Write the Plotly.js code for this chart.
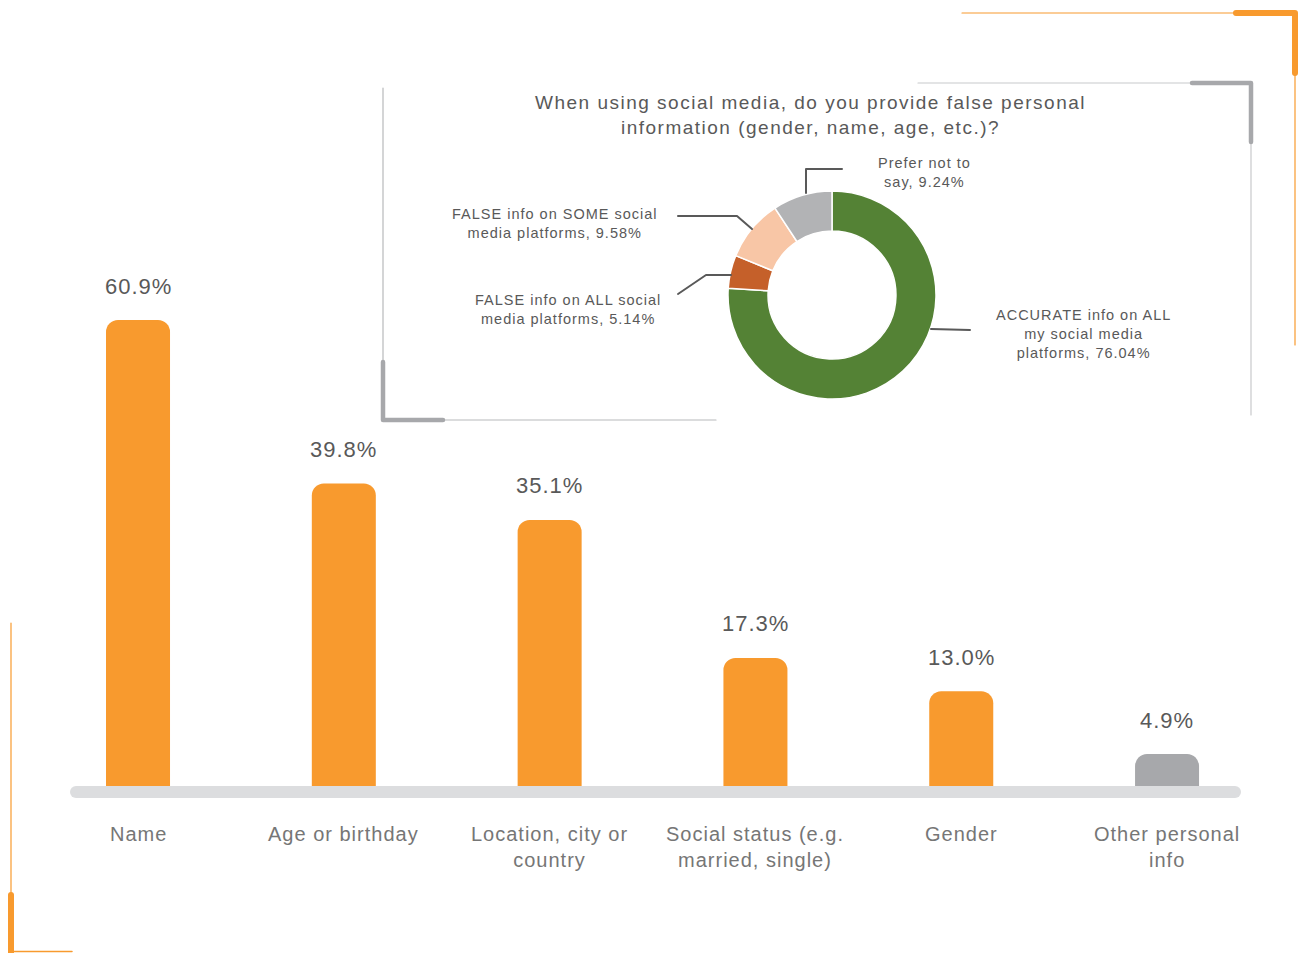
<!DOCTYPE html>
<html>
<head>
<meta charset="utf-8">
<script src="https://cdn.plot.ly/plotly-3.0.1.min.js"></script>
<style>
  html, body { margin: 0; padding: 0; background: #ffffff; }
  svg text { letter-spacing: 1px; }
  .shapelayer path { stroke-linecap: round; stroke-linejoin: round; }
</style>
</head>
<body>
<div id="chart" style="width:1307px;height:953px;"></div>
<script>
// ---- Bar chart data ----
const categories = ['Name', 'Age or birthday', 'Location, city or<br>country', 'Social status (e.g.<br>married, single)', 'Gender', 'Other personal<br>info'];
const percentages = [60.9, 39.8, 35.1, 17.3, 13.0, 4.9];
const barColors = ['#F89A2E', '#F89A2E', '#F89A2E', '#F89A2E', '#F89A2E', '#A7A8AB'];

// ---- Donut data ----
const donutTitle = 'When using social media, do you provide false personal<br>information (gender, name, age, etc.)?';
const donutLabels = ['ACCURATE info on ALL<br>my social media<br>platforms', 'FALSE info on ALL social<br>media platforms', 'FALSE info on SOME social<br>media platforms', 'Prefer not to<br>say'];
const donutValues = [76.04, 5.14, 9.58, 9.24];
const donutColors = ['#548235', '#C5602A', '#F8C6A6', '#B2B3B5'];

// pixel -> paper helpers (figure is 1307 x 953 with zero margins)
const W = 1307, H = 953;
const X = p => p / W;
const Y = p => 1 - p / H;

const catIdx = categories.map((_, i) => i);

const barTrace = {
  type: 'bar',
  x: catIdx,
  y: percentages,
  width: 0.311,
  marker: { color: barColors, cornerradius: 12, line: { width: 0 } },
  hoverinfo: 'skip',
  xaxis: 'x', yaxis: 'y'
};

const donutTrace = {
  type: 'pie',
  values: donutValues,
  labels: donutLabels.map(l => l.replace(/<br>/g, ' ')),
  hole: 0.615,
  sort: false,
  direction: 'clockwise',
  rotation: 0,
  textinfo: 'none',
  hoverinfo: 'skip',
  showlegend: false,
  marker: { colors: donutColors, line: { color: '#ffffff', width: 1.5 } },
  domain: { x: [X(728), X(936)], y: [Y(399), Y(191)] }
};

const annotations = [];
// value labels above bars
percentages.forEach((v, i) => {
  annotations.push({
    x: i, y: v, xref: 'x', yref: 'y',
    text: v.toFixed(1) + '%', showarrow: false,
    yanchor: 'middle', yshift: 34,
    font: { family: 'Liberation Sans, Arial, sans-serif', size: 22, color: '#595959' }
  });
});
// category labels under the baseline
categories.forEach((c, i) => {
  annotations.push({
    x: i, y: 0, xref: 'x', yref: 'y',
    text: c, showarrow: false,
    yanchor: 'top', yshift: -29,
    font: { family: 'Liberation Sans, Arial, sans-serif', size: 20, color: '#767676' }
  });
});
// donut title
annotations.push({
  x: X(810), y: Y(115), xref: 'paper', yref: 'paper',
  text: '<span style="letter-spacing:1.5px">' + donutTitle.replace('<br>', '</span><br><span style="letter-spacing:1.5px">') + '</span>',
  showarrow: false, xanchor: 'center', yanchor: 'middle',
  font: { family: 'Liberation Sans, Arial, sans-serif', size: 19, color: '#595959' }
});
// donut labels
const donutLabelPos = [[1083, 334], [568, 309], [555, 223], [925, 172]];
donutLabels.forEach((l, i) => {
  annotations.push({
    x: X(donutLabelPos[i][0]), y: Y(donutLabelPos[i][1]), xref: 'paper', yref: 'paper',
    text: l + ', ' + donutValues[i].toFixed(2) + '%', showarrow: false,
    xanchor: 'center', yanchor: 'middle',
    font: { family: 'Liberation Sans, Arial, sans-serif', size: 14.5, color: '#595959' }
  });
});

function pathPx(points) {
  return 'M' + points.map(p => X(p[0]) + ',' + Y(p[1])).join(' L');
}
function lineShape(points, color, width, layer) {
  return { type: 'path', xref: 'paper', yref: 'paper', path: pathPx(points),
           line: { color: color, width: width }, layer: layer || 'above' };
}

const ORANGE = '#F89A2E', GREY = '#A7A8AB', LEAD = '#595959';
const shapes = [
  // baseline
  lineShape([[76, 792], [1235, 792]], '#DCDDDF', 12),
  // top-right orange corner
  lineShape([[962, 13], [1236, 13]], ORANGE, 1.2),
  lineShape([[1295, 73], [1295, 345]], ORANGE, 1.2),
  lineShape([[1236, 13], [1295, 13], [1295, 73]], ORANGE, 6),
  // grey frame around donut (top-right)
  lineShape([[918, 83], [1192, 83]], '#C8C9CB', 1.2),
  lineShape([[1251, 142], [1251, 415]], '#C8C9CB', 1.2),
  lineShape([[1192, 83], [1251, 83], [1251, 142]], GREY, 4.5),
  // grey frame (bottom-left)
  lineShape([[383, 88], [383, 362]], '#B8B9BB', 1.2),
  lineShape([[443, 420], [716, 420]], '#B8B9BB', 1.2),
  lineShape([[383, 362], [383, 420], [443, 420]], GREY, 4.5),
  // bottom-left orange corner
  lineShape([[11, 623], [11, 895]], ORANGE, 1.2),
  lineShape([[11, 895], [11, 953]], ORANGE, 6),
  lineShape([[11, 951.5], [72, 951.5]], ORANGE, 1.5),
  // donut leader lines
  lineShape([[806, 193], [806, 169], [842, 169]], LEAD, 2),
  lineShape([[678, 216], [737, 216], [752, 229]], LEAD, 2),
  lineShape([[678, 294], [706, 275], [731, 275]], LEAD, 2),
  lineShape([[931, 329], [970, 330]], LEAD, 2)
];

const layout = {
  width: W, height: H,
  margin: { l: 0, r: 0, t: 0, b: 0 },
  paper_bgcolor: '#ffffff', plot_bgcolor: 'rgba(0,0,0,0)',
  showlegend: false,
  xaxis: { range: [-0.6706, 5.680], showgrid: false, zeroline: false, showticklabels: false, showline: false, fixedrange: true },
  yaxis: { range: [-20.77, 102.19], showgrid: false, zeroline: false, showticklabels: false, showline: false, fixedrange: true },
  annotations: annotations,
  shapes: shapes,
  font: { family: 'Liberation Sans, Arial, sans-serif' }
};

Plotly.newPlot('chart', [barTrace, donutTrace], layout, { displayModeBar: false, staticPlot: true });
</script>
</body>
</html>
